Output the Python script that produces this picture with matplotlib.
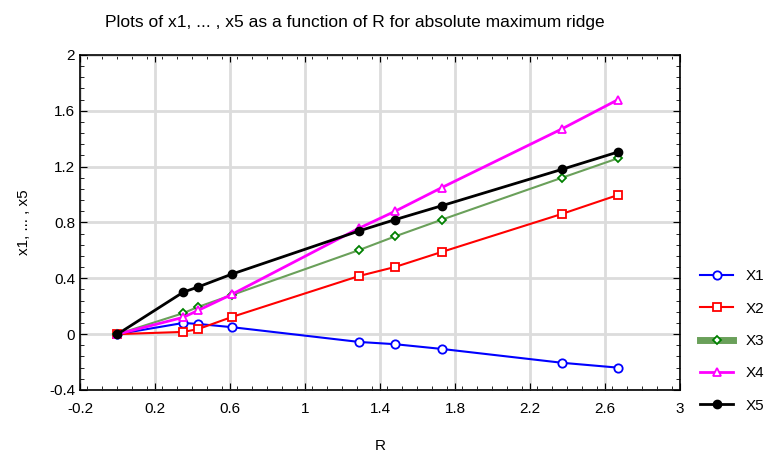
import numpy as np
import matplotlib
matplotlib.use("Agg")
import matplotlib.pyplot as plt
from matplotlib.ticker import MultipleLocator

# Values
R = [0.0, 0.35, 0.43, 0.61, 1.29, 1.48, 1.73, 2.37, 2.67]
x1 = [0.0, 0.08, 0.073, 0.05, -0.056, -0.072, -0.106, -0.205, -0.24]
x2 = [0.0, 0.016, 0.036, 0.123, 0.417, 0.481, 0.589, 0.861, 0.997]
x3 = [0.0, 0.15, 0.195, 0.28, 0.603, 0.70, 0.82, 1.12, 1.26]
x4 = [0.0, 0.12, 0.17, 0.285, 0.76, 0.88, 1.05, 1.47, 1.68]
x5 = [0.0, 0.30, 0.338, 0.43, 0.74, 0.82, 0.92, 1.18, 1.305]

plt.rcParams['font.family'] = ['Liberation Sans', 'DejaVu Sans']

fig = plt.figure(figsize=(7.64, 4.54), dpi=100)
ax = fig.add_axes([0.1047, 0.141, 0.7853, 0.738])

ax.plot(R, x1, color='blue', marker='o', ms=6, mfc='white', mec='blue', mew=1.3, lw=1.5, label='X1')
ax.plot(R, x2, color='red', marker='s', ms=6, mfc='white', mec='red', mew=1.3, lw=1.5, label='X2')
ax.plot(R, x3, color='#6aa05a', marker='D', ms=4.5, mfc='white', mec='green', mew=1.3, lw=1.5, label='X3')
ax.plot(R, x4, color='magenta', marker='^', ms=6, mfc='white', mec='magenta', mew=1.3, lw=2, label='X4')
ax.plot(R, x5, color='black', marker='o', ms=6, mfc='black', mec='black', lw=2, label='X5')

ax.set_xlim(-0.2, 3)
ax.set_ylim(-0.4, 2)
ax.xaxis.set_minor_locator(MultipleLocator(0.08))
ax.yaxis.set_minor_locator(MultipleLocator(0.08))
ax.set_xticks(np.arange(-0.2, 3.01, 0.4))
ax.set_xticklabels(['-0.2', '0.2', '0.6', '1', '1.4', '1.8', '2.2', '2.6', '3'])
ax.set_yticks(np.arange(-0.4, 2.01, 0.4))
ax.set_yticklabels(['-0.4', '0', '0.4', '0.8', '1.2', '1.6', '2'])
ax.tick_params(which='both', direction='in', top=True, right=True, labelsize=11)
ax.tick_params(which='major', length=5)
ax.tick_params(which='minor', length=3)
ax.tick_params(axis='x', which='major', pad=8.5)
ax.grid(True, which='major', color='#dcdcdc', lw=2, ls='-')
ax.set_axisbelow(True)
for s in ax.spines.values():
    s.set_linewidth(1.2)

ax.set_xlabel('R', fontsize=11, labelpad=17)
ax.set_ylabel('x1, ... , x5', fontsize=11, labelpad=13)
ax.set_title('Plots of x1, ... , x5 as a function of R for absolute maximum ridge',
             fontsize=12.5, pad=20, x=0.458)

leg = ax.legend(loc='center left', bbox_to_anchor=(1.01, 0.146), frameon=False, fontsize=11,
                handlelength=2.2, labelspacing=1.2)
# thick green band for the X3 legend handle
leg.get_lines()[2].set_linewidth(5)

fig.savefig('out.png', dpi=100)
